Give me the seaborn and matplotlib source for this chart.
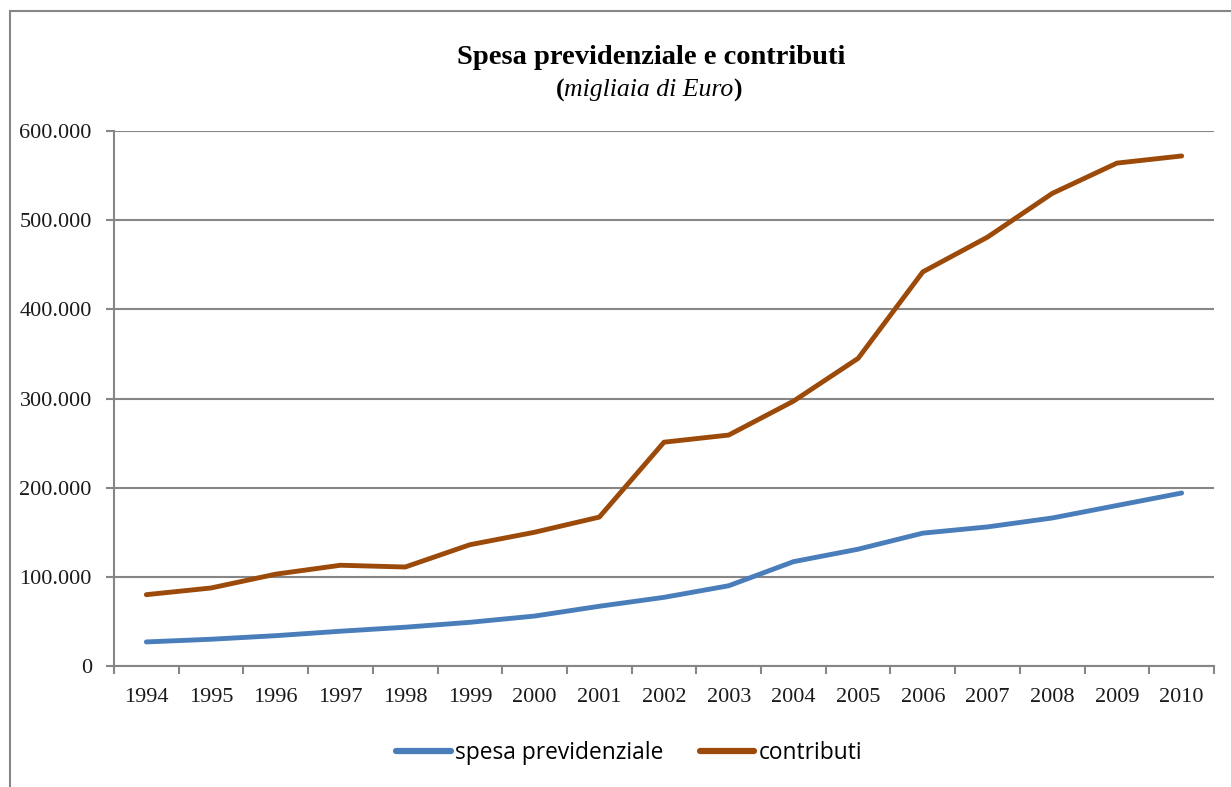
import numpy as np
import pandas as pd
import matplotlib
matplotlib.use("Agg")
import matplotlib.pyplot as plt
import seaborn as sns
from matplotlib.patches import Rectangle
from matplotlib.ticker import FuncFormatter, FixedLocator

# data (migliaia di Euro)
anni = ["1994", "1995", "1996", "1997", "1998", "1999", "2000", "2001", "2002",
        "2003", "2004", "2005", "2006", "2007", "2008", "2009", "2010"]
spesa = [27000, 30000, 34000, 39000, 43500, 49000, 56000, 67000, 77000,
         90000, 117000, 131000, 149000, 156000, 166000, 180000, 194000]
contributi = [80000, 87500, 103000, 113000, 111000, 136000, 150000, 167000, 251000,
              259000, 297000, 345000, 442000, 481000, 530000, 564000, 572000]
serie = ["spesa previdenziale", "contributi"]
colori = ["#4A7EBB", "#9C4A0A"]

df = pd.DataFrame({
    "anno": list(range(len(anni))) * 2,
    "valore": spesa + contributi,
    "serie": [serie[0]] * len(anni) + [serie[1]] * len(anni),
})

sns.set_style("white")
plt.rcParams["font.family"] = ["Liberation Serif", "DejaVu Serif"]
plt.rcParams["text.color"] = "black"

W, H = 1231, 787
fig = plt.figure(figsize=(W / 100, H / 100), dpi=100)
ax = fig.add_axes([114 / W, 1 - 666 / H, (1214 - 114) / W, (666 - 131) / H])

grey = "#868686"
ink = "#1a1a1a"

# outer chart border (runs off the right/bottom edges)
fig.patches.append(Rectangle((10 / W, -0.05), 1.2, 1 - 11 / H + 0.05,
                             transform=fig.transFigure, fill=False,
                             edgecolor=grey, linewidth=1.5))

sns.lineplot(data=df, x="anno", y="valore", hue="serie", palette=colori,
             linewidth=3.5, ax=ax, legend=False, solid_capstyle="round")

ax.set_xlim(-0.5, len(anni) - 0.5)
ax.set_ylim(0, 600000)
ax.yaxis.set_major_locator(FixedLocator(np.arange(0, 600001, 100000)))
ax.yaxis.set_major_formatter(FuncFormatter(
    lambda v, p: "0" if v == 0 else f"{int(v):,}".replace(",", ".")))
ax.grid(axis="y", color=grey, linewidth=1.5)
ax.set_axisbelow(True)

ax.set_xticks(range(len(anni)))
ax.set_xticklabels(anni)
ax.set_xticks(np.arange(-0.5, len(anni)), minor=True)
ax.tick_params(axis="x", which="major", bottom=True, length=0, pad=16,
               labelsize=16, labelcolor=ink)
ax.tick_params(axis="x", which="minor", bottom=True, length=6, width=1.5,
               color=grey)
ax.tick_params(axis="y", left=True, length=6, width=1.5, color=grey, pad=10,
               labelsize=16, labelcolor=ink)
ax.set_xlabel("")
ax.set_ylabel("")

for s in ["top", "right"]:
    ax.spines[s].set_visible(False)
for s in ["left", "bottom"]:
    ax.spines[s].set_color(grey)
    ax.spines[s].set_linewidth(1.5)

# title
fig.text(651 / W, 1 - 57 / H, "Spesa previdenziale e contributi",
         ha="center", va="center", fontsize=20.5, fontweight="bold", color="black")

# subtitle: bold parentheses, italic text
fig.canvas.draw()
r = fig.canvas.get_renderer()
y_sub = 1 - 90 / H
parts = [("(", "bold", "normal"), ("migliaia di Euro", "normal", "italic"),
         (")", "bold", "normal")]
texts = []
for s, w, st in parts:
    t = fig.text(0, y_sub, s, ha="left", va="center", fontsize=18.5,
                 fontweight=w, fontstyle=st, color="black")
    texts.append(t)
widths = [t.get_window_extent(r).width for t in texts]
x0 = 649 - sum(widths) / 2
for t, w in zip(texts, widths):
    t.set_x(x0 / W)
    x0 += w

# legend
handles = [plt.Line2D([], [], color=c, linewidth=4.5, solid_capstyle="round")
           for c in colori]
fig.legend(handles, serie, loc="center", bbox_to_anchor=(629 / W, 1 - 753 / H),
           ncol=2, frameon=False, handlelength=2.4, handletextpad=0.18,
           columnspacing=1.6, labelcolor="black",
           prop={"family": ["Open Sans", "DejaVu Sans"], "size": 16.4})

fig.savefig("out.png", dpi=100)
